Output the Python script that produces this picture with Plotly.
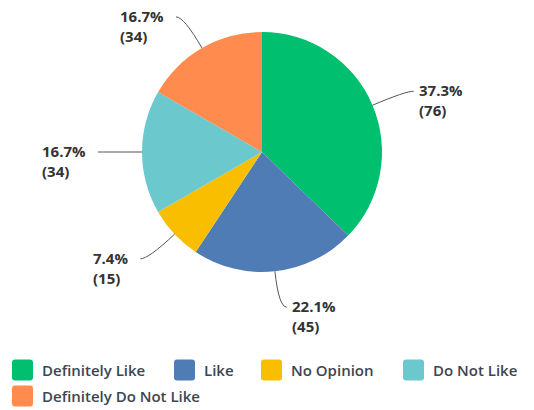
import math
import plotly.graph_objects as go

labels = ["Definitely Like", "Like", "No Opinion", "Do Not Like", "Definitely Do Not Like"]
counts = [76, 45, 15, 34, 34]
percents = ["37.3%", "22.1%", "7.4%", "16.7%", "16.7%"]
colors = ["#00BF6F", "#507CB6", "#F9BE00", "#6BC8CD", "#FF8B4F"]

W, H = 534, 410
CX, CY, R = 262, 152, 120
FONT = "Open Sans"

def px(x):
    return x / W

def py(y):
    return 1 - y / H

fig = go.Figure(go.Pie(
    labels=labels, values=counts, sort=False, direction="clockwise", rotation=0,
    marker=dict(colors=colors, line=dict(width=0)),
    textinfo="none", hoverinfo="label+percent+value",
    domain=dict(x=[px(CX - R), px(CX + R)], y=[py(CY + R), py(CY - R)]),
    showlegend=False,
))

shapes = []
annotations = []
total = sum(counts)
cum = 0
for lab, c, pct in zip(labels, counts, percents):
    mid = (cum + c / 2) / total * 2 * math.pi
    cum += c
    s, co = math.sin(mid), math.cos(mid)
    side = 1 if s > 0.01 else -1
    x0, y0 = CX + R * s, CY - R * co
    xc, yc = CX + 1.3 * R * s, CY - 1.3 * R * co
    xe, ye = xc + side * 8, yc
    shapes.append(dict(
        type="path", xref="paper", yref="paper",
        path=f"M {px(x0)},{py(y0)} Q {px(xc)},{py(yc)} {px(xe)},{py(ye)}",
        line=dict(color="#555555", width=1),
    ))
    gap = 3 if side > 0 else 10
    annotations.append(dict(
        xref="paper", yref="paper",
        x=px(xe + side * gap), y=py(ye - 13),
        xanchor="left" if side > 0 else "right", yanchor="top",
        text=f"<b>{pct}<br>({c})</b>", showarrow=False, align="left",
        font=dict(family=FONT, size=15, color="#333333"),
    ))

# manual legend
legend_x = [12, 174, 261, 403, 12]
legend_y = [370, 370, 370, 370, 396]
for lab, col, lx, ly in zip(labels, colors, legend_x, legend_y):
    x0, x1, y0, y1 = lx, lx + 21, ly - 10.5, ly + 10.5
    r = 3
    path = (f"M {px(x0 + r)},{py(y0)} L {px(x1 - r)},{py(y0)} Q {px(x1)},{py(y0)} {px(x1)},{py(y0 + r)} "
            f"L {px(x1)},{py(y1 - r)} Q {px(x1)},{py(y1)} {px(x1 - r)},{py(y1)} "
            f"L {px(x0 + r)},{py(y1)} Q {px(x0)},{py(y1)} {px(x0)},{py(y1 - r)} "
            f"L {px(x0)},{py(y0 + r)} Q {px(x0)},{py(y0)} {px(x0 + r)},{py(y0)} Z")
    shapes.append(dict(type="path", xref="paper", yref="paper", path=path,
                       fillcolor=col, line=dict(width=0)))
    annotations.append(dict(
        xref="paper", yref="paper", x=px(lx + 28), y=py(ly),
        xanchor="left", yanchor="middle", showarrow=False,
        text=lab, font=dict(family=FONT, size=15, color="#3B4650", weight=600),
    ))

fig.update_layout(
    width=W, height=H, margin=dict(l=0, r=0, t=0, b=0),
    paper_bgcolor="white", plot_bgcolor="white",
    shapes=shapes, annotations=annotations,
)
fig.write_html("out.html", config={"displayModeBar": False},
               post_script="document.body.style.margin='0';document.body.style.overflow='hidden';")
